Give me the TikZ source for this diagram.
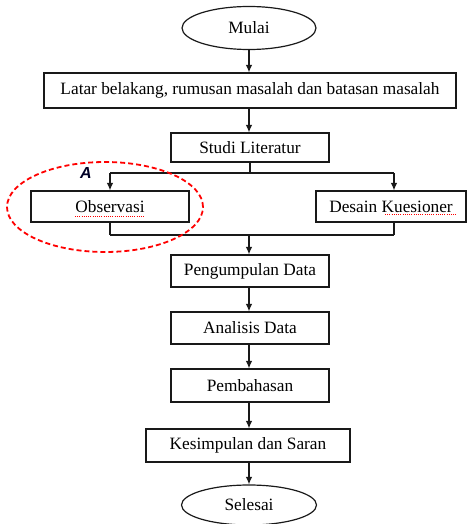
\documentclass[tikz,border=0pt]{standalone}
\usepackage{fontspec}
\setmainfont{Liberation Serif}
\newfontfamily\labelfont{Liberation Sans}
\usetikzlibrary{shapes.geometric,arrows.meta}
\begin{document}
\begin{tikzpicture}[x=1pt,y=-1pt,
  every node/.style={font=\fontsize{17.3}{20}\selectfont, inner sep=0pt, text=black},
  procbox/.style={draw=black!90, line width=1.2pt, rectangle},
  termbox/.style={draw=black!90, line width=1.2pt, ellipse},
  flow/.style={draw=black!90, line width=1.2pt},
  arr/.style={flow, -{Latex[length=7.5pt,width=6.5pt]}},
  spell/.style={draw=red, line width=0.9pt, dash pattern=on 1pt off 1.2pt}]
\useasboundingbox (0,0) rectangle (471,524);
\node[termbox, minimum width=134pt, minimum height=43pt] (mulai) at (249,28) {Mulai};
\node[procbox, minimum width=412pt, minimum height=35pt] (latar) at (250,90.5) {Latar belakang, rumusan masalah dan batasan masalah};
\node[procbox, minimum width=158pt, minimum height=29pt] (studi) at (250,147.5) {Studi Literatur};
\node[procbox, minimum width=158pt, minimum height=31pt] (obs) at (110,206.5) {Observasi};
\node[procbox, minimum width=150pt, minimum height=31pt] (desain) at (391,206.5) {Desain Kuesioner};
\node[procbox, minimum width=158pt, minimum height=32pt] (kumpul) at (250,271) {Pengumpulan Data};
\node[procbox, minimum width=158pt, minimum height=32pt] (analisis) at (250,328) {Analisis Data};
\node[procbox, minimum width=158pt, minimum height=33pt] (bahas) at (250,385.5) {Pembahasan};
\node[procbox, minimum width=204pt, minimum height=33pt] (simpul) at (248,445.5) {Kesimpulan dan Saran};
\node[termbox, minimum width=135pt, minimum height=40pt] (selesai) at (249,505) {Selesai};

\coordinate (split) at (250,173);
\coordinate (splitL) at (110,173);
\coordinate (splitR) at (394,173);
\coordinate (merge) at (249,235);
\coordinate (mergeL) at (110,235);
\coordinate (mergeR) at (394,235);

\draw[arr] (mulai.south) -- (mulai.south |- latar.north);
\draw[arr] (mulai.south |- latar.south) -- (mulai.south |- studi.north);
\draw[flow] (studi.south) -- (split);
\draw[flow] (splitL) -- (splitR);
\draw[arr] (splitL) -- (obs.north);
\draw[arr] (splitR) -- (splitR |- desain.north);
\draw[flow] (obs.south) -- (mergeL);
\draw[flow] (splitR |- desain.south) -- (mergeR);
\draw[flow] (mergeL) -- (mergeR);
\draw[arr] (merge) -- (merge |- kumpul.north);
\draw[arr] (merge |- kumpul.south) -- (merge |- analisis.north);
\draw[arr] (merge |- analisis.south) -- (merge |- bahas.north);
\draw[arr] (merge |- bahas.south) -- (merge |- simpul.north);
\draw[arr] (merge |- simpul.south) -- (selesai.north);

% spell-check underlines
\draw[spell] ([xshift=-35pt,yshift=-9.5pt]obs.center) -- ([xshift=35pt,yshift=-9.5pt]obs.center);
\draw[spell] ([xshift=-6pt,yshift=-8pt]desain.center) -- ([xshift=66pt,yshift=-8pt]desain.center);

% highlight
\node[draw=red, ellipse, line width=1.8pt, dash pattern=on 5pt off 3pt, minimum width=196pt, minimum height=90pt] (hl) at (105,207) {};
\node[font=\labelfont\bfseries\itshape\fontsize{16}{18}\selectfont, text=black!85!blue] (alabel) at (86,172.5) {A};
\end{tikzpicture}
\end{document}
